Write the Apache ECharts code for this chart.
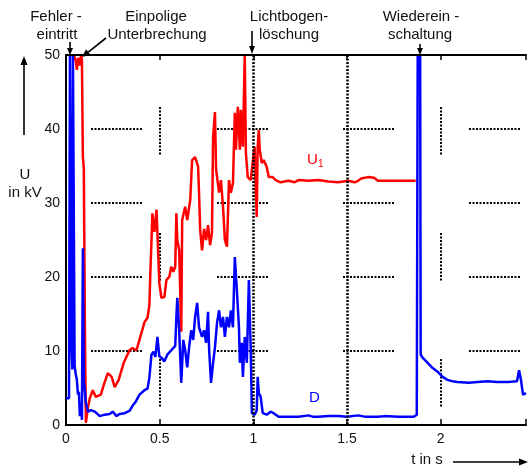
<!DOCTYPE html>
<html><head><meta charset="utf-8">
<script src="https://cdn.jsdelivr.net/npm/echarts@6/dist/echarts.min.js"></script>
<style>html,body{margin:0;padding:0;background:#fff}#c{width:529px;height:468px}</style>
</head><body><div id="c"></div>
<script>
const xTicks = [0, 0.5, 1, 1.5, 2];
const yTicks = [0, 10, 20, 30, 40, 50];

const u1Time = [0.042,0.053,0.058,0.064,0.074,0.080,0.085,0.090,0.095,0.098,0.101,0.106,0.111,0.117,0.127,0.143,0.159,0.186,0.201,0.223,0.244,0.260,0.281,0.308,0.339,0.355,0.376,0.392,0.419,0.435,0.445,0.451,0.456,0.461,0.472,0.483,0.488,0.498,0.509,0.525,0.536,0.551,0.562,0.573,0.583,0.589,0.594,0.604,0.615,0.620,0.636,0.647,0.663,0.673,0.689,0.705,0.710,0.716,0.726,0.737,0.748,0.758,0.769,0.779,0.785,0.795,0.801,0.817,0.827,0.838,0.848,0.859,0.870,0.880,0.891,0.901,0.907,0.917,0.928,0.933,0.944,0.954,0.960,0.970,0.986,1.002,1.007,1.013,1.018,1.023,1.029,1.034,1.045,1.055,1.071,1.082,1.103,1.119,1.145,1.188,1.220,1.241,1.294,1.347,1.400,1.453,1.506,1.540,1.559,1.575,1.585,1.612,1.644,1.665,1.720,1.771,1.866];
const u1Values = [50,49.1,48.0,49.6,48.6,50,49.3,36.2,34.7,23.6,12.8,0.3,0.4,2.4,3.6,4.7,3.8,4.1,5.4,7.0,6.5,5.1,6.1,8.4,10.1,10.4,10.1,11.5,13.9,14.5,16.2,21.2,24.7,28.6,26.1,29.1,25.9,19.2,17.2,17.3,19.6,20.0,21.4,20.7,21.4,28.6,25.0,23.6,12.6,27.7,29.5,27.7,30.4,35.8,36.2,34.9,31.4,26.4,23.6,26.5,25.0,27.0,24.3,26.0,38.9,42.3,34.5,31.4,33.1,29.5,25.0,24.1,33.1,31.4,32.7,42.2,37.2,43.0,37.2,42.6,37.6,50,36.8,33.5,33.1,36.8,37.6,31.4,28.1,37.6,39.9,37.2,35.4,35.8,34.9,33.5,33.5,33.1,32.8,33.0,32.8,33.1,33.0,33.1,32.9,32.8,33.0,32.8,33.0,33.3,33.4,33.5,33.4,33.0,33.0,33.0,33.0];

const dTime = [0,0.016,0.021,0.027,0.030,0.034,0.037,0.042,0.046,0.051,0.058,0.064,0.069,0.074,0.080,0.085,0.090,0.095,0.106,0.117,0.133,0.154,0.180,0.207,0.233,0.249,0.270,0.286,0.313,0.339,0.355,0.371,0.392,0.419,0.435,0.445,0.456,0.467,0.477,0.488,0.498,0.509,0.525,0.541,0.562,0.583,0.589,0.594,0.604,0.615,0.626,0.636,0.647,0.657,0.668,0.679,0.689,0.700,0.710,0.726,0.737,0.748,0.758,0.764,0.774,0.785,0.795,0.806,0.817,0.827,0.838,0.848,0.859,0.870,0.880,0.891,0.901,0.912,0.923,0.928,0.938,0.944,0.954,0.965,0.976,0.986,0.992,1.007,1.018,1.023,1.029,1.039,1.050,1.071,1.092,1.108,1.135,1.200,1.241,1.294,1.320,1.347,1.400,1.453,1.500,1.559,1.600,1.665,1.700,1.771,1.856,1.872,1.877,1.890,1.893,1.903,1.930,1.957,1.983,2.010,2.036,2.063,2.089,2.150,2.195,2.250,2.301,2.360,2.407,2.418,2.428,2.439,2.455];
const dValues = [3.6,3.6,50,50,10,7.5,50,50,8.0,7.0,6.1,4.1,4.5,1.2,3.0,0.7,23.9,6.1,3.0,1.8,2.0,1.8,1.2,1.4,1.5,1.8,1.2,1.5,1.6,1.9,2.6,3.1,4.1,4.7,4.9,6.4,9.5,9.9,9.2,11.9,9.3,9.1,8.6,9.5,10.1,10.7,14.6,17.2,12.8,5.7,11.5,10.1,7.8,10.5,12.8,11.5,14.6,16.5,13.2,11.9,12.8,11.1,15.3,10.1,5.7,8.4,10.5,13.8,15.5,13.2,14.6,11.9,14.6,13.2,15.5,13.2,22.7,18.2,13.2,8.4,11.1,6.5,11.9,8.4,19.6,10.1,1.6,1.4,2.0,6.5,4.3,3.8,1.6,1.4,1.8,1.6,1.1,1.1,1.1,1.3,1.1,1.1,1.2,1.2,1.1,1.3,1.1,1.1,1.2,1.1,1.1,1.4,50,50,9.5,9.1,8.4,7.7,7.2,6.5,6.1,5.9,5.8,5.7,5.8,5.9,5.8,5.8,5.9,7.4,6.1,4.1,4.3];

const FONT = "'Liberation Sans', Arial, sans-serif";
const T = 'transparent';

function dotPattern(segLen, period, on, off) {
  const arr = [];
  const n = Math.floor(segLen / (on + off));
  for (let i = 0; i < n; i++) { arr.push(on, off); }
  arr[arr.length - 1] = off + (period - n * (on + off));
  return arr;
}
const hPattern = dotPattern(53, 126, 2, 1.5);
const vPattern = dotPattern(50, 126, 2, 1.5);

function arrow(x1, y1, x2, y2, h, w) {
  h = h || 8; w = w || 3.5;
  const a = Math.atan2(y2 - y1, x2 - x1);
  const bx = x2 - h * Math.cos(a), by = y2 - h * Math.sin(a);
  return [
    {type: 'line', silent: true, shape: {x1: x1, y1: y1, x2: bx, y2: by}, style: {stroke: '#000', lineWidth: 1.6}},
    {type: 'polygon', silent: true, shape: {points: [[x2, y2], [bx + w * Math.sin(a), by - w * Math.cos(a)], [bx - w * Math.sin(a), by + w * Math.cos(a)]]}, style: {fill: '#000'}}
  ];
}
function label(x, baseline, text, size, color) {
  size = size || 15;
  return {type: 'text', silent: true, style: {x: x, y: baseline - 0.36 * size, text: text, fill: color || '#111', font: size + 'px ' + FONT, textAlign: 'center', textVerticalAlign: 'middle'}};
}

const graphics = [].concat(
  label(56, 22, 'Fehler -'), label(57, 40, 'eintritt'),
  label(156, 22, 'Einpolige'), label(157, 40, 'Unterbrechung'),
  label(289, 22, 'Lichtbogen-'), label(289, 40, 'löschung'),
  label(421, 22, 'Wiederein -'), label(420, 40, 'schaltung'),
  label(25, 180, 'U'), label(25, 198, 'in kV'),
  label(427, 465, 't in s'),
  arrow(70, 42, 70, 55, 7, 3),
  arrow(106, 38, 82, 57, 8, 3.5),
  arrow(252, 31, 252, 54, 8, 3),
  arrow(420, 44, 420, 55, 7, 3),
  arrow(24, 135, 24, 56, 9, 3.5),
  arrow(453, 462, 528, 462, 9, 3.5),
  [{type: 'text', silent: true, style: {x: 307, y: 165 - 5.4, text: 'U', fill: '#f00', font: '15px ' + FONT, textAlign: 'left', textVerticalAlign: 'middle'}},
   {type: 'text', silent: true, style: {x: 318, y: 168 - 3.6, text: '1', fill: '#f00', font: '10px ' + FONT, textAlign: 'left', textVerticalAlign: 'middle'}},
   {type: 'text', silent: true, style: {x: 309, y: 403 - 5.4, text: 'D', fill: '#00f', font: '15px ' + FONT, textAlign: 'left', textVerticalAlign: 'middle'}}]
);

const chart = echarts.init(document.getElementById('c'), null, {renderer: 'canvas'});
chart.setOption({
  animation: false,
  backgroundColor: '#fff',
  grid: {left: 66, right: 0, top: 55, bottom: 43, containLabel: false},
  xAxis: [{
    type: 'value', min: 0, max: 2.455, interval: 0.5, position: 'bottom',
    axisLine: {show: true, onZero: false, lineStyle: {color: '#000', width: 2}},
    axisTick: {show: true, inside: true, length: 6, lineStyle: {color: '#000', width: 1.5}},
    axisLabel: {fontSize: 14, color: '#111', fontFamily: FONT, margin: 7,
      formatter: function (v) { return xTicks.indexOf(Math.round(v * 1000) / 1000) >= 0 ? String(v) : ''; }},
    splitLine: {show: true, lineStyle: {color: [T, '#000', T, T, '#000', T], width: 2, type: vPattern, dashOffset: 74}}
  }, {
    type: 'value', min: 0, max: 2.455, interval: 0.5, position: 'top', z: 5,
    axisLine: {show: true, onZero: false, lineStyle: {color: '#000', width: 2}},
    axisTick: {show: true, inside: true, length: 5, lineStyle: {color: '#000', width: 1.5}},
    axisLabel: {show: false},
    splitLine: {show: true, lineStyle: {color: [T, T, '#000', '#000', T, T], width: 2.5, type: [2, 1.5]}}
  }],
  yAxis: {
    type: 'value', min: 0, max: 50, interval: 10,
    axisLine: {show: true, onZero: false, lineStyle: {color: '#000', width: 2}},
    axisTick: {show: false},
    axisLabel: {fontSize: 14, color: '#111', fontFamily: FONT, margin: 6,
      formatter: function (v) { return yTicks.indexOf(v) >= 0 ? String(v) : ''; }},
    splitLine: {show: true, lineStyle: {color: [T, '#000', '#000', '#000', '#000', T], width: 2, type: hPattern, dashOffset: 101}}
  },
  series: [{
    name: 'U1', type: 'line', xAxisIndex: 0, showSymbol: false, clip: true,
    lineStyle: {color: '#ff0000', width: 2.5}, itemStyle: {color: '#ff0000'},
    data: u1Time.map(function (t, i) { return [t, u1Values[i]]; })
  }, {
    name: 'D', type: 'line', xAxisIndex: 0, showSymbol: false, clip: true,
    lineStyle: {color: '#0000ff', width: 2.5}, itemStyle: {color: '#0000ff'},
    data: dTime.map(function (t, i) { return [t, dValues[i]]; })
  }],
  graphic: graphics
});
</script>
</body></html>
